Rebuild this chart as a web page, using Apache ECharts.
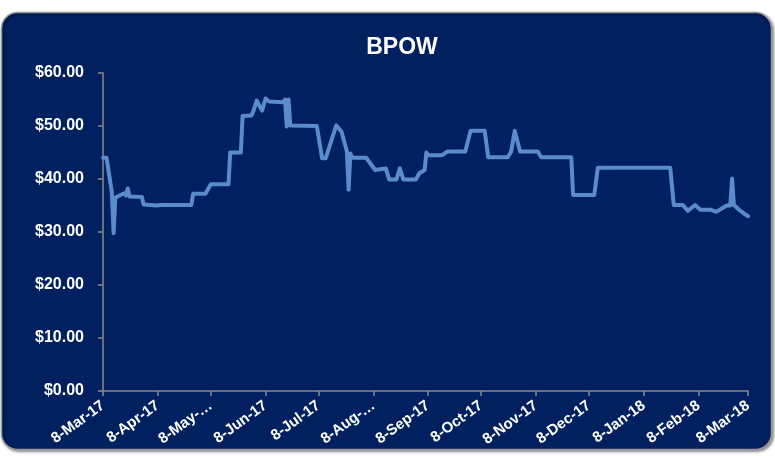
<!DOCTYPE html>
<html>
<head>
<meta charset="utf-8">
<script src="https://cdn.jsdelivr.net/npm/echarts@6/dist/echarts.min.js"></script>
<style>
  html, body { margin: 0; padding: 0; background: #ffffff; }
  #chart { width: 775px; height: 456px; }
</style>
</head>
<body>
<div id="chart"></div>
<script>
// ---- data ----
const startDate = '2017-03-08';
const endDate = '2018-03-08';
const tickLabels = ['8-Mar-17', '8-Apr-17', '8-May-…', '8-Jun-17', '8-Jul-17', '8-Aug-…',
  '8-Sep-17', '8-Oct-17', '8-Nov-17', '8-Dec-17', '8-Jan-18', '8-Feb-18', '8-Mar-18'];
const yTicks = [0, 10, 20, 30, 40, 50, 60];

const priceDates = [
  '2017-03-08','2017-03-10','2017-03-13','2017-03-14','2017-03-15','2017-03-16','2017-03-20',
  '2017-03-21','2017-03-22','2017-03-23','2017-03-30','2017-03-31','2017-04-07','2017-04-08',
  '2017-04-10','2017-04-27','2017-04-28','2017-05-05','2017-05-08','2017-05-18','2017-05-19',
  '2017-05-25','2017-05-26','2017-05-31','2017-06-01','2017-06-03','2017-06-06','2017-06-08',
  '2017-06-10','2017-06-18','2017-06-19','2017-06-20','2017-06-21','2017-06-22','2017-07-07',
  '2017-07-10','2017-07-12','2017-07-18','2017-07-21','2017-07-24','2017-07-25','2017-07-26',
  '2017-07-27','2017-08-04','2017-08-09','2017-08-15','2017-08-17','2017-08-21','2017-08-23',
  '2017-08-25','2017-09-01','2017-09-03','2017-09-06','2017-09-07','2017-09-08','2017-09-16',
  '2017-09-19','2017-09-29','2017-10-02','2017-10-10','2017-10-12','2017-10-23','2017-10-25',
  '2017-10-27','2017-10-30','2017-11-09','2017-11-11','2017-11-28','2017-11-29','2017-12-11',
  '2017-12-13','2018-01-23','2018-01-25','2018-01-30','2018-02-02','2018-02-06','2018-02-09',
  '2018-02-15','2018-02-18','2018-02-24','2018-02-26','2018-02-27','2018-02-28','2018-03-03',
  '2018-03-07','2018-03-08'
];
const priceValues = [
  44.0, 44.0, 37.5, 29.8, 36.5, 36.5, 37.3,
  36.9, 38.2, 36.7, 36.6, 35.2, 35.0, 34.8,
  35.1, 35.1, 37.2, 37.2, 39.0, 39.0, 45.0,
  45.0, 51.9, 52.0, 52.7, 54.8, 52.9, 55.2,
  54.6, 54.5, 55.0, 49.9, 55.0, 50.1, 50.0,
  43.9, 43.9, 50.1, 48.9, 45.2, 38.0, 44.8,
  44.0, 44.0, 41.7, 42.0, 39.9, 39.9, 42.0,
  39.9, 39.9, 41.1, 41.7, 45.0, 44.5, 44.5,
  45.2, 45.2, 49.1, 49.1, 44.1, 44.1, 45.2,
  49.1, 45.2, 45.2, 44.1, 44.1, 37.0, 37.0,
  42.1, 42.1, 35.1, 35.1, 34.0, 35.1, 34.2,
  34.2, 33.8, 35.0, 35.0, 40.1, 35.1, 34.2,
  33.2, 33.0
];

// ---- build the daily category list the axis needs ----
function fmt(d) {
  const m = String(d.getUTCMonth() + 1).padStart(2, '0');
  const day = String(d.getUTCDate()).padStart(2, '0');
  return d.getUTCFullYear() + '-' + m + '-' + day;
}
const categories = [];
for (let d = new Date(startDate + 'T00:00:00Z'); fmt(d) <= endDate; d.setUTCDate(d.getUTCDate() + 1)) {
  categories.push(fmt(d));
}
const isTick = (idx, val) => val.slice(8) === '08';
const labelFor = (val) => {
  const y = +val.slice(0, 4), m = +val.slice(5, 7);
  return tickLabels[(y - 2017) * 12 + m - 3];
};

const chart = echarts.init(document.getElementById('chart'), null, { renderer: 'canvas' });
const axisGray = '#8a8a8a';
chart.setOption({
  backgroundColor: 'transparent',
  animation: false,
  graphic: [{
    type: 'rect',
    z: -10,
    shape: { x: 1.5, y: 12.5, width: 770, height: 437, r: 16 },
    style: {
      fill: '#00205f',
      stroke: '#9a9a9a',
      lineWidth: 1.5,
      shadowBlur: 3,
      shadowOffsetX: 1.5,
      shadowOffsetY: 1.5,
      shadowColor: 'rgba(0,0,0,0.45)'
    }
  }],
  title: {
    text: 'BPOW',
    left: 397,
    top: 31,
    textAlign: 'center',
    textStyle: { color: '#ffffff', fontSize: 23, fontWeight: 'bold', fontFamily: 'Liberation Sans Narrow, Arial Narrow, Liberation Sans, Arial, sans-serif' }
  },
  grid: { left: 103, right: 27, top: 73, bottom: 65, containLabel: false },
  xAxis: {
    type: 'category',
    data: categories,
    boundaryGap: false,
    axisLine: { lineStyle: { color: axisGray, width: 1.5 } },
    axisTick: { interval: isTick, length: 5, lineStyle: { color: axisGray, width: 1.5 } },
    axisLabel: {
      interval: isTick,
      formatter: labelFor,
      rotate: 36,
      margin: 13,
      color: '#ffffff',
      fontSize: 15,
      fontWeight: 'bold',
      fontFamily: 'Liberation Sans, Arial, sans-serif'
    },
    splitLine: { show: false }
  },
  yAxis: {
    type: 'value',
    min: yTicks[0],
    max: yTicks[yTicks.length - 1],
    interval: 10,
    axisLine: { show: true, lineStyle: { color: axisGray, width: 1.5 } },
    axisTick: { show: true, length: 5, lineStyle: { color: axisGray, width: 1.5 } },
    axisLabel: {
      formatter: (v) => '$' + v.toFixed(2),
      margin: 19,
      color: '#ffffff',
      fontSize: 16,
      fontWeight: 'bold',
      fontFamily: 'Liberation Sans, Arial, sans-serif'
    },
    splitLine: { show: false }
  },
  series: [{
    type: 'line',
    name: 'BPOW',
    data: priceDates.map((d, i) => [d, priceValues[i]]),
    showSymbol: false,
    symbol: 'none',
    lineStyle: { color: '#5a8ccb', width: 4, join: 'round', cap: 'round' },
    z: 3
  }]
});
</script>
</body>
</html>
